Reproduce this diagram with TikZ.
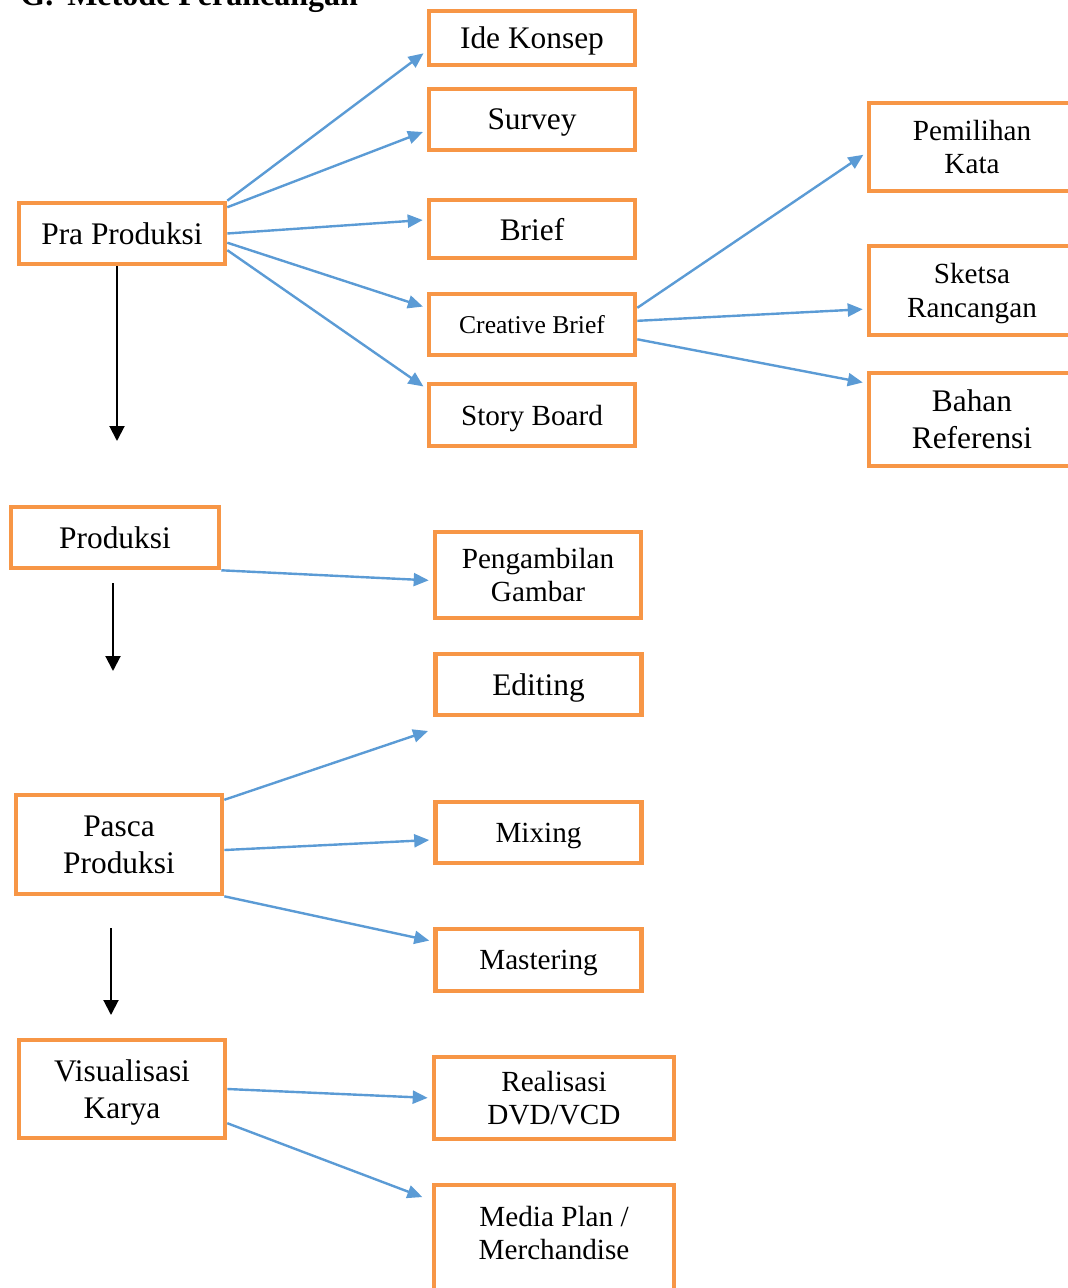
\documentclass[tikz,border=0pt]{standalone}
\usepackage{fontspec}
\setmainfont{Liberation Serif}
\usetikzlibrary{arrows.meta,calc}
\usetikzlibrary{positioning}
\definecolor{oranye}{HTML}{F79646}
\definecolor{biru}{HTML}{5B9BD5}
\newcommand\besar{\fontsize{15.7}{18.5}\selectfont}
\newcommand\kecil{\fontsize{14.6}{16.7}\selectfont}
\tikzset{
    %Define standard arrow tip
    >={Triangle[length=7.5pt,width=6.5pt]},
    % Define box style
    kotak/.style={
           draw=oranye,
           line width=2.3pt,
           inner sep=0pt,
           align=center,
           text depth=0pt,
           minimum width=103pt,
           font=\besar},
    % Define arrow style
    panah/.style={
           ->,
           draw=biru,
           line width=1.2pt,
           shorten >=2pt,},
    panahhitam/.style={
           -{Triangle[length=7.5pt,width=7.5pt]},
           line width=1pt,}
}
\begin{document}
\begin{tikzpicture}[x=0.5pt,y=-0.5pt]
  \useasboundingbox (0,0) rectangle (1067,1288);
  \node (judul) at (20,6) [anchor=base west,inner sep=0pt,font=\bfseries\fontsize{16}{19}\selectfont] {G.\hspace{7pt}Metode Perancangan};
  % pra produksi
  \node (pra) at (122,233.5) [kotak,minimum height=30.5pt] {Pra Produksi};
  \node (ide) at (532,38) [kotak,minimum height=27pt] {Ide Konsep};
  \node (survey) at (532,119.5) [kotak,minimum height=30.5pt] {Survey};
  \node (brief) at (532,229) [kotak,minimum height=29pt] {Brief};
  \node (cbrief) at (532,324.5) [kotak,minimum height=30.5pt,font=\fontsize{12.8}{15}\selectfont] {Creative Brief};
  \node (story) at (532,415) [kotak,minimum height=31pt,font=\kecil] {Story Board};
  \node (pilih) at (972,147) [kotak,minimum height=44pt,font=\kecil] {Pemilihan\\Kata};
  \node (sketsa) at (972,290.5) [kotak,minimum height=44.5pt,font=\kecil] {Sketsa\\Rancangan};
  \node (bahan) at (972,419.5) [kotak,minimum height=46.5pt] {Bahan\\Referensi};
  % produksi
  \node (prod) at (115,537.5) [kotak,minimum width=104pt,minimum height=30.5pt] {Produksi};
  \node (ambil) at (538,575) [kotak,minimum height=43pt,font=\kecil] {Pengambilan\\Gambar};
  % pasca produksi
  \node (edit) at (538.5,684.5) [kotak,minimum height=30.5pt] {Editing};
  \node (pasca) at (119,844.5) [kotak,minimum height=49.5pt] {Pasca\\Produksi};
  \node (mix) at (538.5,832.5) [kotak,minimum height=30.5pt,font=\kecil] {Mixing};
  \node (master) at (538.5,960) [kotak,minimum height=31pt,font=\kecil] {Mastering};
  % visualisasi
  \node (visual) at (122,1089) [kotak,minimum height=49pt] {Visualisasi\\Karya};
  \node (dvd) at (554,1098) [kotak,minimum width=120pt,minimum height=41pt,font=\kecil] {Realisasi\\DVD/VCD};
  \node (media) at (554,1250) [kotak,minimum width=120pt,minimum height=65pt] {};
  \node (mediateks) at (554,1233) [font=\kecil,align=center,text depth=0pt] {Media Plan /\\Merchandise};
  \coordinate (ujung) at (428,731);
  \coordinate (a1) at (117,441);
  \coordinate (b0) at (113,583);
  \coordinate (b1) at (113,671);
  \coordinate (c0) at (111,928);
  \coordinate (c1) at (111,1015);
  \draw [panah] (pra.north east) -- (ide.187);
  \draw [panah] (pra.14) -- (survey.186);
  \draw [panah] (pra.east) -- (brief.175);
  \draw [panah] (pra.-5) -- (cbrief.171);
  \draw [panah] (pra.-9) -- (story.166);
  \draw [panah] (cbrief.9) -- (pilih.183);
  \draw [panah] (cbrief.2) -- (sketsa.190);
  \draw [panah] (cbrief.-8) -- (bahan.161);
  \draw [panah] (prod.south east) -- (ambil.183);
  \draw [panah,shorten >=0pt] (pasca.23) -- (ujung);
  \draw [panah] (pasca.-3) -- (mix.184);
  \draw [panah] (pasca.south east) -- (master.170);
  \draw [panah] (visual.east) -- (dvd.west);
  \draw [panah,shorten >=5pt] (visual.-18) -- (media.158);
  \draw [panahhitam] (pra.south -| a1) -- (a1);
  \draw [panahhitam] (b0) -- (b1);
  \draw [panahhitam] (c0) -- (c1);
\end{tikzpicture}
\end{document}
